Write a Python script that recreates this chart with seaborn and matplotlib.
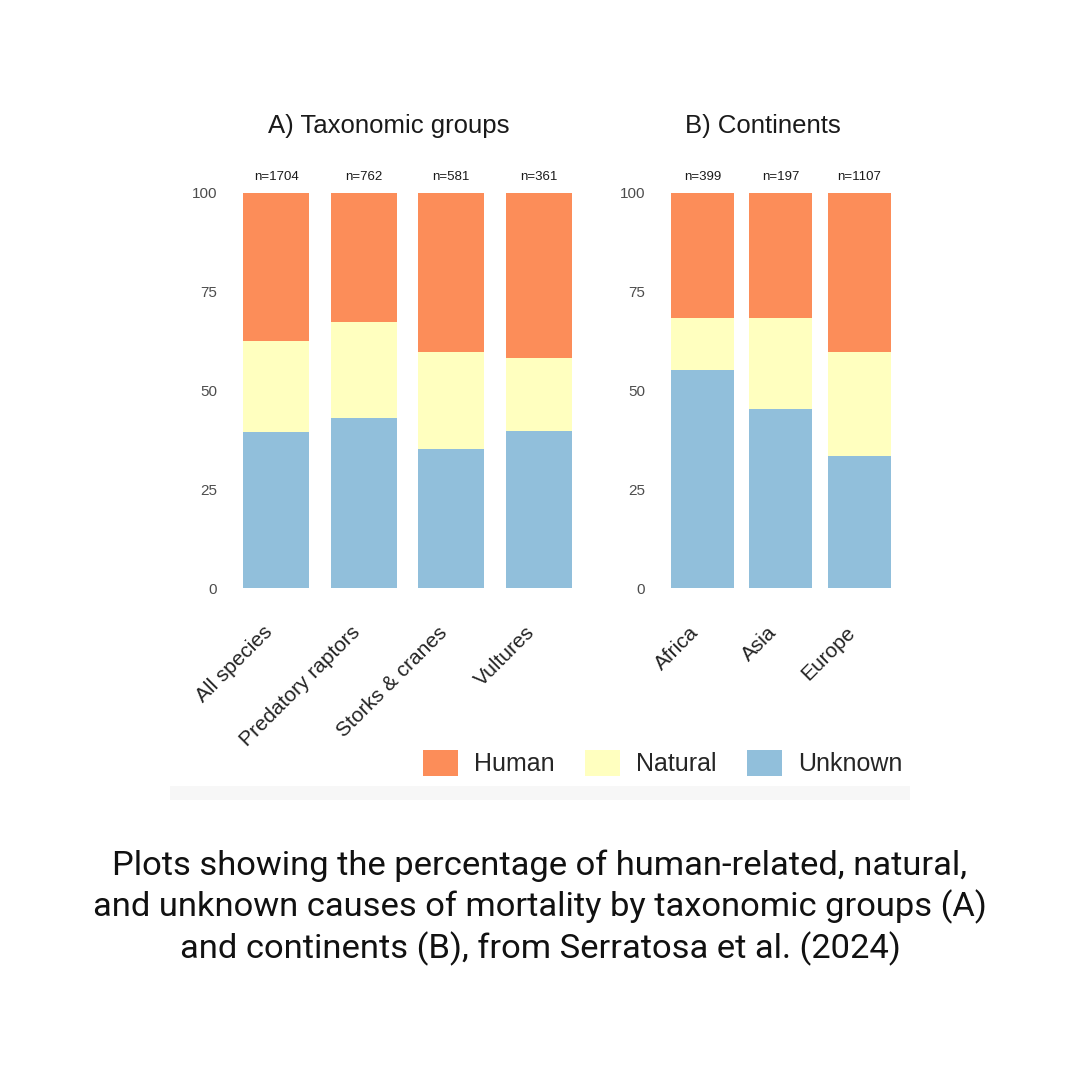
import matplotlib
matplotlib.use("Agg")
import matplotlib.pyplot as plt
from matplotlib.patches import Patch, Rectangle
import seaborn as sns

# Panel A: taxonomic groups (% of deaths by cause)
groups = ["All species", "Predatory raptors", "Storks & cranes", "Vultures"]
groups_n = ["n=1704", "n=762", "n=581", "n=361"]
groups_unknown = [39.5, 43.0, 35.2, 39.7]
groups_natural = [23.0, 24.3, 24.5, 18.5]
groups_human = [37.5, 32.7, 40.3, 41.8]

# Panel B: continents
continents = ["Africa", "Asia", "Europe"]
continents_n = ["n=399", "n=197", "n=1107"]
continents_unknown = [55.2, 45.3, 33.4]
continents_natural = [13.2, 23.1, 26.3]
continents_human = [31.6, 31.6, 40.3]

causes = ["Human", "Natural", "Unknown"]
colors = {"Human": "#FC8D59", "Natural": "#FFFFBF", "Unknown": "#91BFDB"}
y_ticks = [0, 25, 50, 75, 100]

caption = ("Plots showing the percentage of human-related, natural,\n"
           "and unknown causes of mortality by taxonomic groups (A)\n"
           "and continents (B), from Serratosa et al. (2024)")

sns.set_style("white")
plt.rcParams["font.family"] = ["Liberation Sans", "DejaVu Sans"]

W = 1080
fig = plt.figure(figsize=(10.8, 10.8), dpi=100)
fig.patch.set_facecolor("white")


def px(x0, x1, y_top, y_bot):
    return [x0 / W, 1 - y_bot / W, (x1 - x0) / W, (y_bot - y_top) / W]


def stacked(ax, cats, unknown, natural, human, labels, width, ypad):
    top_nat = [u + n for u, n in zip(unknown, natural)]
    top_all = [t + h for t, h in zip(top_nat, human)]
    # draw from the full stack down so the lower segments sit on top
    for vals, cause in [(top_all, "Human"), (top_nat, "Natural"), (unknown, "Unknown")]:
        sns.barplot(x=cats, y=vals, color=colors[cause], saturation=1,
                    width=width, linewidth=0, ax=ax)
    for i, lab in enumerate(labels):
        ax.text(i, 102.5, lab, ha="center", va="bottom", fontsize=9.5,
                color="#1a1a1a", clip_on=False)
    ax.set_xlim(-0.6, len(cats) - 0.4)
    ax.set_ylim(0, 100)
    ax.set_yticks(y_ticks)
    ax.set_yticklabels([str(t) for t in y_ticks], fontsize=11, color="#4d4d4d")
    ax.tick_params(axis="y", length=0, pad=ypad)
    ax.tick_params(axis="x", length=0, pad=25)
    ax.set_xticks(range(len(cats)))
    ax.set_xticklabels(cats, rotation=45, ha="right", va="top",
                       fontsize=15, color="#222222")
    ax.set_xlabel("")
    ax.set_ylabel("")
    sns.despine(ax=ax, left=True, bottom=True)


ax_a = fig.add_axes(px(224, 591, 193, 588))
stacked(ax_a, groups, groups_unknown, groups_natural, groups_human,
        groups_n, 0.756, 5)

ax_b = fig.add_axes(px(655.5, 906, 193, 588))
stacked(ax_b, continents, continents_unknown, continents_natural,
        continents_human, continents_n, 0.805, 7.5)

fig.text(388.5 / W, 1 - 133 / W, "A) Taxonomic groups", ha="center",
         va="baseline", fontsize=18.5, color="#1a1a1a")
fig.text(762.5 / W, 1 - 133 / W, "B) Continents", ha="center",
         va="baseline", fontsize=18.5, color="#1a1a1a")

handles = [Patch(facecolor=colors[c], edgecolor="none", label=c) for c in causes]
fig.legend(handles=handles, loc="center", ncol=3, frameon=False,
           bbox_to_anchor=(662.5 / W, 1 - 763 / W), fontsize=18,
           handlelength=1.4, handleheight=1.25, handletextpad=0.65,
           columnspacing=1.2)

# faint grey strip at the lower edge of the original chart image
fig.patches.append(Rectangle((170 / W, 1 - 800 / W), 740 / W, 14 / W,
                             transform=fig.transFigure, facecolor="#f7f7f7",
                             edgecolor="none", zorder=0))

fig.text(0.5, 1 - 908 / W, caption, ha="center", va="center", fontsize=24.8,
         linespacing=1.28, color="#111111", family=["Roboto", "DejaVu Sans"])

fig.savefig("out.png", dpi=100, facecolor="white")
